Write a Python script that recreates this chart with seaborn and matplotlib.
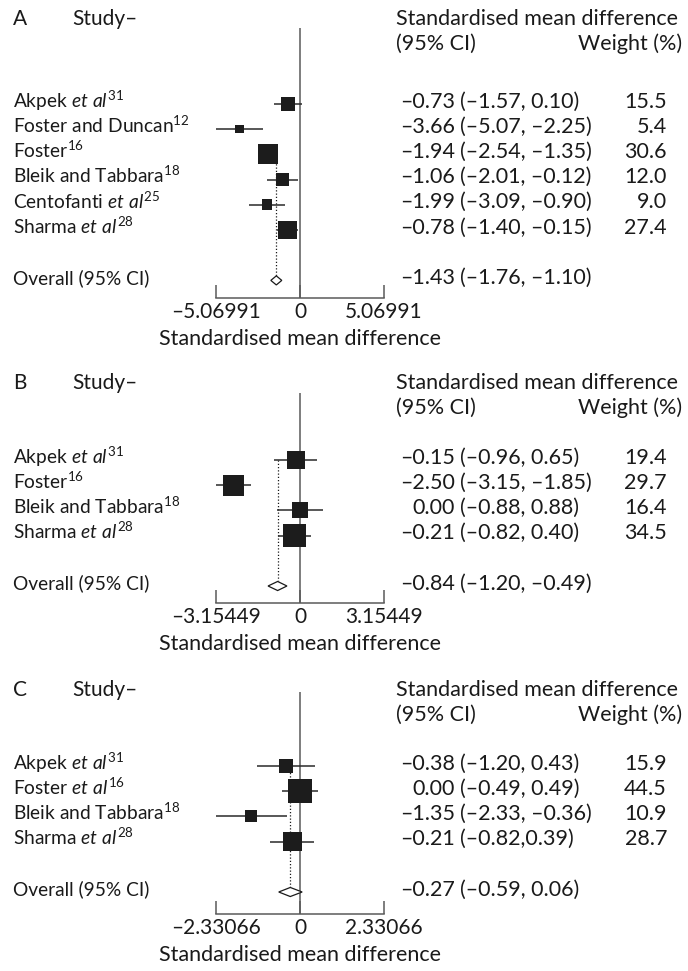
import numpy as np
import pandas as pd
import matplotlib
matplotlib.use("Agg")
import matplotlib.pyplot as plt
import seaborn as sns
from matplotlib.transforms import blended_transform_factory
from matplotlib.patches import Polygon

# ---------------- data ----------------
panel_letters = ["A", "B", "C"]

studies_A = [r"Akpek $\mathit{et\ al}^{\mathrm{31}}$",
             r"Foster and Duncan$^{\mathrm{12}}$",
             r"Foster$^{\mathrm{16}}$",
             r"Bleik and Tabbara$^{\mathrm{18}}$",
             r"Centofanti $\mathit{et\ al}^{\mathrm{25}}$",
             r"Sharma $\mathit{et\ al}^{\mathrm{28}}$"]
est_A = [-0.73, -3.66, -1.94, -1.06, -1.99, -0.78]
lo_A = [-1.57, -5.07, -2.54, -2.01, -3.09, -1.40]
hi_A = [0.10, -2.25, -1.35, -0.12, -0.90, -0.15]
ci_text_A = ["(–1.57, 0.10)", "(–5.07, –2.25)", "(–2.54, –1.35)",
             "(–2.01, –0.12)", "(–3.09, –0.90)", "(–1.40, –0.15)"]
weight_A = [15.5, 5.4, 30.6, 12.0, 9.0, 27.4]
overall_A = [-1.43, -1.76, -1.10]
overall_text_A = "(–1.76, –1.10)"
limit_A = 5.06991
ticklabels_A = ["–5.06991", "0", "5.06991"]

studies_B = [r"Akpek $\mathit{et\ al}^{\mathrm{31}}$",
             r"Foster$^{\mathrm{16}}$",
             r"Bleik and Tabbara$^{\mathrm{18}}$",
             r"Sharma $\mathit{et\ al}^{\mathrm{28}}$"]
est_B = [-0.15, -2.50, 0.00, -0.21]
lo_B = [-0.96, -3.15, -0.88, -0.82]
hi_B = [0.65, -1.85, 0.88, 0.40]
ci_text_B = ["(–0.96, 0.65)", "(–3.15, –1.85)", "(–0.88, 0.88)", "(–0.82, 0.40)"]
weight_B = [19.4, 29.7, 16.4, 34.5]
overall_B = [-0.84, -1.20, -0.49]
overall_text_B = "(–1.20, –0.49)"
limit_B = 3.15449
ticklabels_B = ["–3.15449", "0", "3.15449"]

studies_C = [r"Akpek $\mathit{et\ al}^{\mathrm{31}}$",
             r"Foster $\mathit{et\ al}^{\mathrm{16}}$",
             r"Bleik and Tabbara$^{\mathrm{18}}$",
             r"Sharma $\mathit{et\ al}^{\mathrm{28}}$"]
est_C = [-0.38, 0.00, -1.35, -0.21]
lo_C = [-1.20, -0.49, -2.33, -0.82]
hi_C = [0.43, 0.49, -0.36, 0.39]
ci_text_C = ["(–1.20, 0.43)", "(–0.49, 0.49)", "(–2.33, –0.36)", "(–0.82,0.39)"]
weight_C = [15.9, 44.5, 10.9, 28.7]
overall_C = [-0.27, -0.59, 0.06]
overall_text_C = "(–0.59, 0.06)"
limit_C = 2.33066
ticklabels_C = ["–2.33066", "0", "2.33066"]

# ---------------- style ----------------
sns.set_theme(style="white")
FONT = "Lato"
plt.rcParams["font.family"] = [FONT, "DejaVu Sans"]
plt.rcParams["mathtext.fontset"] = "custom"
plt.rcParams["mathtext.rm"] = FONT
plt.rcParams["mathtext.it"] = FONT + ":italic"
plt.rcParams["mathtext.bf"] = FONT + ":bold"
FS_LEFT = 13.8
FS_RIGHT = 15.5
FS_TICK = 15
TXT = "#1a1a1a"
GREY = "#5a5a5a"

W, H = 688, 971
fig = plt.figure(figsize=(W / 100, H / 100), dpi=100)
fig.patch.set_facecolor("white")

ROW = 25.2
X0, X1 = 216, 384


def fx(px):
    return px / W


def fy(py):
    return 1 - py / H


layout = [
    dict(head1=19, head2=44, zero_top=28, row1=104, axis=298, k=3.62, dot_start=3),
    dict(head1=383, head2=408, zero_top=393, row1=460, axis=603, k=3.92, dot_start=1),
    dict(head1=690, head2=715, zero_top=692, row1=766, axis=914, k=3.6, dot_start=1),
]

panels = [
    (studies_A, est_A, lo_A, hi_A, ci_text_A, weight_A, overall_A, overall_text_A, limit_A, ticklabels_A),
    (studies_B, est_B, lo_B, hi_B, ci_text_B, weight_B, overall_B, overall_text_B, limit_B, ticklabels_B),
    (studies_C, est_C, lo_C, hi_C, ci_text_C, weight_C, overall_C, overall_text_C, limit_C, ticklabels_C),
]


def fmt(v):
    s = f"{v:.2f}"
    return s.replace("-", "–")


for letter, lay, pdata in zip(panel_letters, layout, panels):
    studies, est, lo, hi, ci_text, weight, overall, overall_text, L, tlabels = pdata
    n = len(est)
    rows = np.arange(1, n + 1)
    orow = n + 2
    r_top = 1 - (lay["row1"] - lay["zero_top"]) / ROW
    r_bot = 1 + (lay["axis"] - lay["row1"]) / ROW

    ax = fig.add_axes([fx(X0), fy(lay["axis"]), fx(X1) - fx(X0),
                       (lay["axis"] - lay["zero_top"]) / H])
    ax.set_facecolor("none")

    ax.axvline(0, color=GREY, lw=1.1, zorder=1)
    dh = 0.18
    ax.vlines(overall[0], lay["dot_start"], orow - dh, colors=TXT,
              linestyles=(0, (1, 1.6)), lw=0.9, zorder=1.5)
    ax.hlines(rows, lo, hi, colors="#2a2a2a", lw=1.1, zorder=2)

    df = pd.DataFrame({"est": est, "row": rows, "weight": weight})
    sizes = ((lay["k"] * np.sqrt(df["weight"].values)) * 0.72) ** 2
    sns.scatterplot(data=df, x="est", y="row", marker="s", s=sizes,
                    color="#1c1c1c", linewidth=0, legend=False, ax=ax, zorder=3)

    diamond = Polygon([(overall[1], orow), (overall[0], orow - dh),
                       (overall[2], orow), (overall[0], orow + dh)],
                      closed=True, facecolor="white", edgecolor=TXT, lw=0.9, zorder=3)
    ax.add_patch(diamond)

    ax.set_xlim(-L, L)
    ax.set_ylim(r_bot, r_top)
    for sp in ["top", "left", "right"]:
        ax.spines[sp].set_visible(False)
    ax.spines["bottom"].set_color(GREY)
    ax.spines["bottom"].set_linewidth(1.1)
    ax.set_xticks([-L, 0, L])
    ax.set_xticklabels(tlabels)
    ax.set_yticks([])
    ax.tick_params(axis="x", direction="in", length=9.5, width=1.1, color=GREY,
                   pad=3, labelsize=FS_TICK, labelcolor=TXT, bottom=True)
    ax.set_xlabel("Standardised mean difference", fontsize=FS_RIGHT, color=TXT, labelpad=5)
    ax.set_ylabel("")

    tr = blended_transform_factory(fig.transFigure, ax.transData)
    base = 0.14
    for r, lab, e, ct, w in zip(rows, studies, est, ci_text, weight):
        ax.text(fx(13), r + base, lab, transform=tr, ha="left", va="baseline",
                fontsize=FS_LEFT, color=TXT)
        ax.text(fx(455), r + base, fmt(e), transform=tr, ha="right", va="baseline",
                fontsize=FS_RIGHT, color=TXT)
        ax.text(fx(460), r + base, ct, transform=tr, ha="left", va="baseline",
                fontsize=FS_RIGHT, color=TXT)
        ax.text(fx(667), r + base, f"{w:.1f}", transform=tr, ha="right", va="baseline",
                fontsize=FS_RIGHT, color=TXT)
    ax.text(fx(13), orow + base, "Overall (95% CI)", transform=tr, ha="left",
            va="baseline", fontsize=FS_LEFT, color=TXT)
    ax.text(fx(455), orow + base, fmt(overall[0]), transform=tr, ha="right",
            va="baseline", fontsize=FS_RIGHT, color=TXT)
    ax.text(fx(460), orow + base, overall_text, transform=tr, ha="left",
            va="baseline", fontsize=FS_RIGHT, color=TXT)

    # headers
    fig.text(fx(13), fy(lay["head1"]), letter, ha="left", va="center", fontsize=FS_TICK, color=TXT)
    fig.text(fx(72), fy(lay["head1"]), "Study–", ha="left", va="center", fontsize=FS_TICK, color=TXT)
    fig.text(fx(396), fy(lay["head1"]), "Standardised mean difference", ha="left",
             va="center", fontsize=FS_RIGHT, color=TXT)
    fig.text(fx(396), fy(lay["head2"]), "(95% CI)", ha="left", va="center",
             fontsize=FS_RIGHT, color=TXT)
    fig.text(fx(682), fy(lay["head2"]), "Weight (%)", ha="right", va="center",
             fontsize=FS_RIGHT, color=TXT)

fig.savefig("out.png", dpi=100, facecolor="white")
